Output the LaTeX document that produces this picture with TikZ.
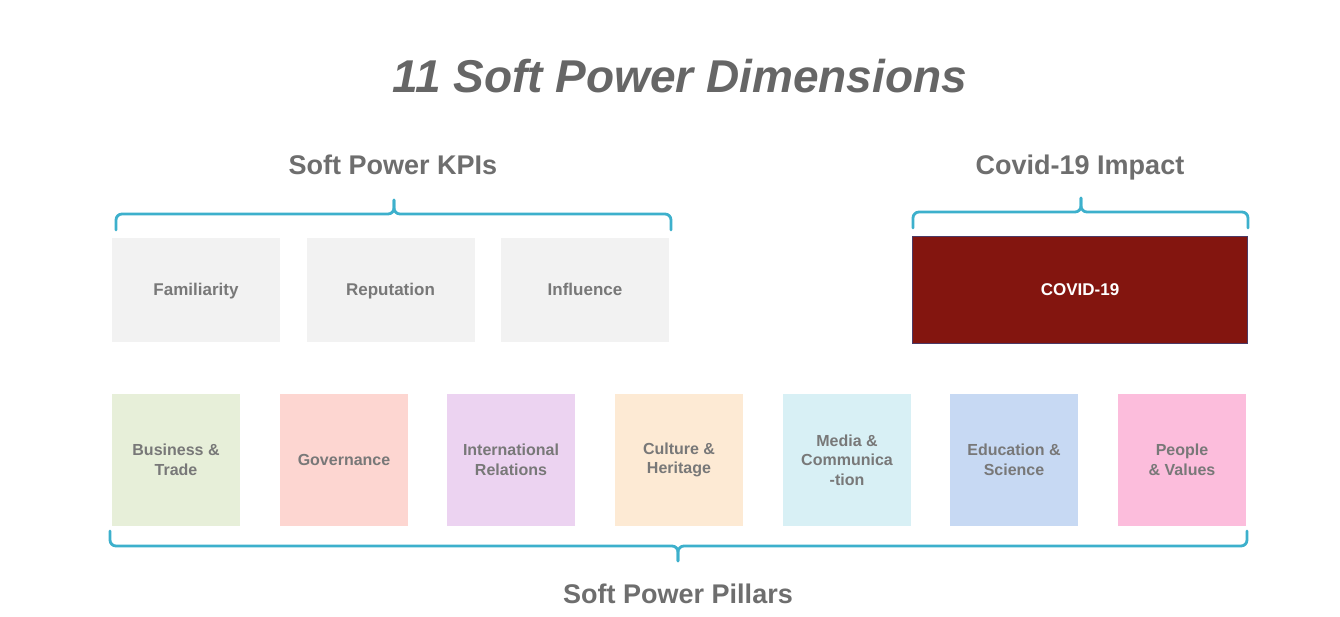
\documentclass[tikz,border=0pt]{standalone}
\usepackage{fontspec}
\setmainfont{Liberation Sans}
\definecolor{titlegray}{HTML}{666666}
\definecolor{headgray}{HTML}{6E6E6E}
\definecolor{boxtext}{HTML}{787878}
\definecolor{kpifill}{HTML}{F2F2F2}
\definecolor{covidfill}{HTML}{83150F}
\definecolor{covidline}{HTML}{4B3A66}
\definecolor{bracecol}{HTML}{3DB0CC}
\definecolor{pA}{HTML}{E7EFD9}
\definecolor{pB}{HTML}{FDD6D1}
\definecolor{pC}{HTML}{ECD3F1}
\definecolor{pD}{HTML}{FDEAD4}
\definecolor{pE}{HTML}{D8F0F5}
\definecolor{pF}{HTML}{C7D9F3}
\definecolor{pG}{HTML}{FCBDDC}
\begin{document}
\begin{tikzpicture}[x=1pt,y=-1pt,
  boxlabel/.style={font=\fontsize{17}{20}\selectfont\bfseries, text=boxtext, align=center, inner sep=0pt},
  kpibox/.style={boxlabel, fill=kpifill, minimum width=168pt, minimum height=104pt, text height=12pt, text depth=0pt},
  pillar/.style={boxlabel, font=\fontsize{16}{19.5}\selectfont\bfseries, minimum width=128pt, minimum height=132pt},
  heading/.style={font=\fontsize{27}{32}\selectfont\bfseries, text=headgray, inner sep=0pt},
  bracket/.style={draw=bracecol, line width=2.8pt, rounded corners=6pt, line cap=round}
]
\useasboundingbox[fill=white] (0,0) rectangle (1340,617);

\node[font=\fontsize{46}{52}\selectfont\bfseries\itshape, text=titlegray, inner sep=0pt] (title) at (680,76) {11 Soft Power Dimensions};

\node[heading] (kpih) at (393,165) {Soft Power KPIs};
\node[heading] (covh) at (1080,168) {Covid-19 Impact};
\node[heading] (pilh) at (678,594) {Soft Power Pillars};

\node[kpibox] (fam) at (196,290) {Familiarity};
\node[kpibox] (rep) at (390.5,290) {Reputation};
\node[kpibox] (inf) at (585,290) {Influence};

\node[boxlabel, text=white, fill=covidfill, draw=covidline, line width=1pt, minimum width=335pt, minimum height=107pt, text height=12pt, text depth=0pt] (cov) at (1080,290) {COVID-19};

\node[pillar, fill=pA] (p1) at (176,460) {Business \&\\Trade};
\node[pillar, fill=pB] (p2) at (344,460) {Governance};
\node[pillar, fill=pC] (p3) at (511,460) {International\\Relations};
\node[pillar, fill=pD] (p4) at (679,460) {Culture \&\\Heritage};
\node[pillar, fill=pE] (p5) at (847,460) {Media \&\\Communica\\-tion};
\node[pillar, fill=pF] (p6) at (1014,460) {Education \&\\Science};
\node[pillar, fill=pG] (p7) at (1182,460) {People\\\& Values};

% KPI brace
\coordinate (k1) at (116,230);
\coordinate (k2) at (671,230);
\coordinate (kt) at (394,200);
\draw[bracket] (k1) -- (116,214) -- (394,214) -- (kt);
\draw[bracket] (kt) -- (394,214) -- (671,214) -- (k2);

% Covid brace
\coordinate (c1) at (913,228);
\coordinate (c2) at (1248,228);
\coordinate (ct) at (1081,198);
\draw[bracket] (c1) -- (913,212) -- (1081,212) -- (ct);
\draw[bracket] (ct) -- (1081,212) -- (1248,212) -- (c2);

% Pillars brace
\coordinate (b1) at (110,531);
\coordinate (b2) at (1247,531);
\coordinate (bt) at (678,561);
\draw[bracket] (b1) -- (110,546) -- (678,546) -- (bt);
\draw[bracket] (bt) -- (678,546) -- (1247,546) -- (b2);
\end{tikzpicture}
\end{document}
